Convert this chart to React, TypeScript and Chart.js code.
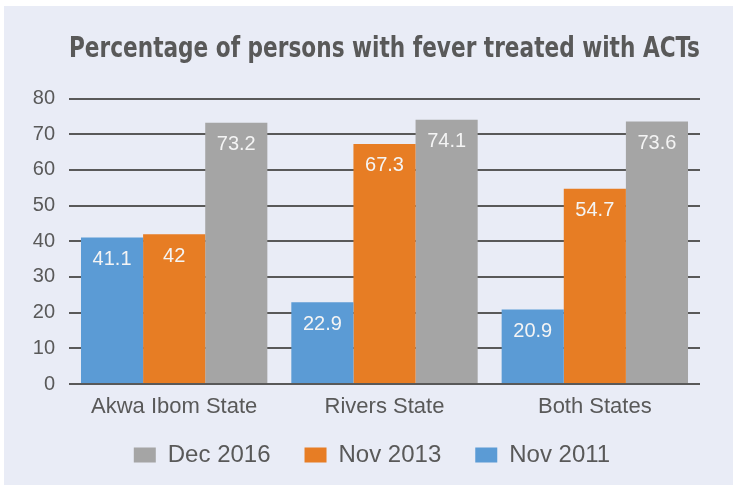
import React, { useEffect, useRef } from "react";
import { Chart, registerables } from "chart.js";

Chart.register(...registerables);

const categories = ["Akwa Ibom State", "Rivers State", "Both States"];
const seriesNames = ["Nov 2011", "Nov 2013", "Dec 2016"];
const nov2011 = [41.1, 22.9, 20.9];
const nov2013 = [42, 67.3, 54.7];
const dec2016 = [73.2, 74.1, 73.6];
const yMax = 80;
const yStep = 10;

const COLORS = ["#5b9bd5", "#e77d24", "#a5a5a5"];
const BG = "#e9ecf6";
const TEXT = "#595959";
const FONT = "'Liberation Sans', Arial, sans-serif";
const TITLE_FONT = "'Liberation Sans Narrow', 'DejaVu Sans Condensed', 'Liberation Sans', sans-serif";

const panelPlugin = {
  id: "panel",
  beforeDraw(chart: any) {
    const { ctx, width, height } = chart;
    ctx.save();
    ctx.fillStyle = "#ffffff";
    ctx.fillRect(0, 0, width, height);
    ctx.fillStyle = BG;
    ctx.fillRect(4, 6, width - 4, height - 6);
    ctx.restore();
  },
};

const legendShift = {
  id: "legendShift",
  afterLayout(chart: any) {
    const lg = chart.legend;
    if (lg) {
      lg.top -= 8;
      lg.bottom -= 8;
    }
  },
};

const valueLabels = {
  id: "valueLabels",
  afterDatasetsDraw(chart: any) {
    const { ctx } = chart;
    ctx.save();
    ctx.fillStyle = "#f4f4f4";
    ctx.font = `20px ${FONT}`;
    ctx.textAlign = "center";
    ctx.textBaseline = "middle";
    chart.data.datasets.forEach((ds: any, di: number) => {
      const meta = chart.getDatasetMeta(di);
      meta.data.forEach((bar: any, i: number) => {
        ctx.fillText(String(ds.data[i]), bar.x, bar.y + 22);
      });
    });
    ctx.restore();
  },
};

export default function App() {
  const ref = useRef<HTMLCanvasElement | null>(null);
  useEffect(() => {
    document.body.style.margin = "0";
    const chart = new Chart(ref.current as HTMLCanvasElement, {
      type: "bar",
      data: {
        labels: categories,
        datasets: [nov2011, nov2013, dec2016].map((d, i) => ({
          label: seriesNames[i],
          data: d,
          backgroundColor: COLORS[i],
          borderWidth: 0,
          barPercentage: 1,
          categoryPercentage: 0.886,
          yAxisID: "y",
        })),
      },
      options: {
        animation: false,
        responsive: false,
        devicePixelRatio: 1,
        layout: { padding: { left: 11, right: 0, top: 0, bottom: 0 } },
        plugins: {
          title: {
            display: true,
            text: "Percentage of persons with fever treated with ACTs",
            color: TEXT,
            fullSize: false,
            font: { family: TITLE_FONT, size: 28, weight: "bold" },
            padding: { top: 33, bottom: 32 },
          },
          legend: {
            position: "bottom",
            reverse: true,
            labels: {
              color: TEXT,
              font: { family: FONT, size: 24 },
              boxWidth: 22,
              boxHeight: 15,
              padding: 34,
            },
          },
          tooltip: { enabled: false },
        },
        scales: {
          x: {
            grid: { display: false },
            border: { display: false },
            ticks: { color: TEXT, font: { family: FONT, size: 22 }, padding: 2 },
            afterFit: (s: any) => {
              s.height = 33;
            },
          },
          y: {
            min: 0,
            max: yMax,
            ticks: { stepSize: yStep, color: TEXT, font: { family: FONT, size: 20 }, padding: 14 },
            grid: { color: "#595959", lineWidth: 2, drawTicks: false },
            border: { display: false },
            afterFit: (s: any) => {
              s.width = 58;
            },
          },
          y2: {
            type: "linear",
            position: "right",
            grid: { display: false },
            ticks: { display: false },
            border: { display: false },
            afterFit: (s: any) => {
              s.width = 33;
            },
          },
        },
      },
      plugins: [panelPlugin, legendShift, valueLabels],
    });
    return () => chart.destroy();
  }, []);
  return <canvas ref={ref} width={733} height={485} style={{ display: "block" }} />;
}
